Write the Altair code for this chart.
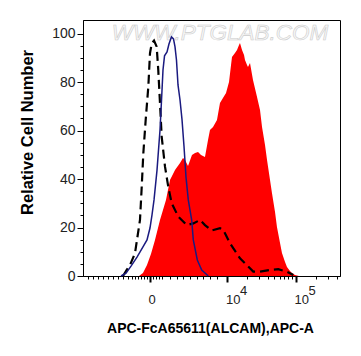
import altair as alt
import pandas as pd

# x positions are in display units of the biexponential axis
red_x = [2.734, 2.791, 2.849, 2.906, 2.964, 3.036, 3.079, 3.122, 3.180, 3.252, 3.324, 3.367,
         3.396, 3.439, 3.496, 3.540, 3.583, 3.626, 3.683, 3.727, 3.755, 3.799, 3.856, 3.899,
         3.942, 3.986, 4.029, 4.058, 4.072, 4.115, 4.144, 4.173, 4.187, 4.216, 4.245, 4.259,
         4.288, 4.302, 4.331, 4.374, 4.432, 4.475, 4.504, 4.547, 4.576, 4.619, 4.647, 4.691,
         4.719, 4.763, 4.791, 4.835, 4.863, 4.906, 4.935, 4.978, 5.036]
red_y = [0, 1.2, 4.5, 9.1, 14.9, 23.1, 27.2, 31.4, 39.6, 43.7, 46.6, 48.7,
         47.9, 45.4, 49.9, 50.7, 51.2, 49.9, 49.1, 56.1, 60.2, 61.5, 64.4, 71.4,
         73.4, 75.5, 80.0, 87.0, 90.3, 92.0, 93.2, 95.3, 96.1, 93.2, 91.2, 89.1,
         87.0, 86.2, 87.9, 80.9, 73.8, 68.5, 61.5, 54.0, 47.9, 39.6, 34.2, 26.4,
         20.2, 13.6, 9.5, 5.8, 3.7, 2.1, 1.2, 0.4, 0]

blue_x = [2.475, 2.547, 2.619, 2.705, 2.791, 2.849, 2.892, 2.921, 2.950, 2.993, 3.036, 3.058,
          3.079, 3.101, 3.137, 3.165, 3.201, 3.230, 3.252, 3.273, 3.295, 3.324, 3.353, 3.381,
          3.410, 3.443, 3.492, 3.515, 3.573, 3.636, 3.731]
blue_y = [0, 1.2, 4.1, 7.8, 12.0, 14.9, 19.8, 25.2, 31.4, 43.7, 60.2, 72.6,
          85.0, 90.8, 92.4, 95.7, 98.6, 97.8, 94.5, 89.1, 78.8, 72.6, 64.4, 53.6,
          40.8, 31.4, 23.1, 14.9, 6.6, 2.5, 0]

dash_x = [2.504, 2.557, 2.604, 2.676, 2.748, 2.773, 2.796, 2.830, 2.868, 2.892, 2.917, 2.950,
          2.988, 3.011, 3.036, 3.060, 3.108, 3.155, 3.204, 3.299, 3.348, 3.420, 3.515, 3.612,
          3.683, 3.780, 3.899, 3.947, 4.043, 4.187, 4.283, 4.378, 4.475, 4.619, 4.738, 4.859,
          4.954]
dash_y = [0, 2.5, 4.5, 9.4, 23.1, 36.8, 50.6, 64.4, 78.1, 91.9, 96.0, 97.1,
          94.6, 85.0, 71.2, 57.5, 45.1, 36.8, 30.0, 24.5, 23.1, 21.0, 21.7, 23.1,
          21.0, 18.8, 19.7, 19.0, 13.5, 7.3, 4.6, 1.8, 1.8, 2.5, 2.8, 1.8,
          0.4]

minor_ticks = [2.000, 2.072, 2.144, 2.216, 2.288, 2.360, 2.432, 2.504, 2.576,
               2.633, 2.676, 2.719, 2.763, 2.806, 2.849, 2.935, 2.978, 3.022, 3.065,
               3.180, 3.276, 3.371, 3.468, 3.564, 3.659, 3.755, 3.852,
               4.295, 4.466, 4.590, 4.683, 4.761, 4.827, 4.883, 4.934,
               5.281, 5.453, 5.576]
major_ticks = [2.892, 4.0, 4.986]
zero_label = ["0"]
power_base = ["10", "10"]
power_exp = ["4", "5"]
y_ticks = list(range(0, 101, 5))

x_title = "APC-FcA65611(ALCAM),APC-A"
y_title = "Relative Cell Number"
watermark = "WWW.PTGLAB.COM"

X_DOMAIN = [1.928, 5.626]
Y_DOMAIN = [0, 105.6]
FONT = "Liberation Sans"

xs = alt.Scale(domain=X_DOMAIN, nice=False, zero=False)
ys = alt.Scale(domain=Y_DOMAIN, nice=False, zero=False)

major_test = "indexof([" + ",".join(str(v) for v in major_ticks) + "], datum.value) >= 0"

x_axis = alt.Axis(
    values=sorted(minor_ticks + major_ticks), labels=False, grid=False,
    tickSize={"condition": {"test": major_test, "value": 6}, "value": 3},
    tickWidth={"condition": {"test": major_test, "value": 2}, "value": 1},
    tickColor="black", domainColor="black", domainWidth=1,
    title=x_title, titleFont=FONT, titleFontSize=14, titleFontWeight="bold",
    titleColor="black", titleX=127, titleY=52, titleBaseline="middle", titleAlign="center",
)
y_axis = alt.Axis(
    values=y_ticks, grid=False,
    labelExpr="datum.value % 20 === 0 ? datum.label : ''",
    tickSize={"condition": {"test": "datum.value % 20 === 0", "value": 6}, "value": 3},
    tickColor="black", domainColor="black", domainWidth=1,
    labelFont=FONT, labelFontSize=14, labelColor="#222222", labelPadding=2,
    title=y_title, titleFont=FONT, titleFontSize=16.5, titleFontWeight="bold",
    titleColor="black", titleX=-56, titleY=112, titleAngle=270,
    titleBaseline="middle", titleAlign="center",
)

def X():
    return alt.X("x:Q", scale=xs, axis=x_axis)

def Y():
    return alt.Y("y:Q", scale=ys, axis=y_axis)

red_df = pd.DataFrame({"x": red_x, "y": red_y})
blue_df = pd.DataFrame({"x": blue_x, "y": blue_y})
dash_df = pd.DataFrame({"x": dash_x, "y": dash_y})

wm = alt.Chart(pd.DataFrame({"t": [watermark]})).mark_text(
    font=FONT, fontSize=22.5, fontStyle="italic", fill="#f8f8f8", stroke="#cccccc",
    strokeWidth=0.6, align="center", baseline="alphabetic",
).encode(text="t:N", x=alt.value(137), y=alt.value(20))

red = alt.Chart(red_df).mark_area(color="#ff0000", interpolate="linear").encode(x=X(), y=Y())
dash = alt.Chart(dash_df).mark_line(color="black", strokeWidth=2.2, strokeDash=[9, 5]).encode(x=X(), y=Y())
blue = alt.Chart(blue_df).mark_line(color="#1a1a80", strokeWidth=1.5).encode(x=X(), y=Y())

zero_df = pd.DataFrame({"x": major_ticks[:1], "t": zero_label})
pow_df = pd.DataFrame({"x": major_ticks[1:], "b": power_base, "e": power_exp})

zero_txt = alt.Chart(zero_df).mark_text(
    font=FONT, fontSize=13, color="#222222", align="center", baseline="alphabetic", dx=2,
).encode(x=X(), y=alt.value(284), text="t:N")
base_txt = alt.Chart(pow_df).mark_text(
    font=FONT, fontSize=13, color="#222222", align="left", baseline="alphabetic", dx=-1,
).encode(x=X(), y=alt.value(284), text="b:N")
exp_txt = alt.Chart(pow_df).mark_text(
    font=FONT, fontSize=13, color="#222222", align="left", baseline="alphabetic", dx=13,
).encode(x=X(), y=alt.value(275), text="e:N")

chart = alt.layer(wm, red, dash, blue, zero_txt, base_txt, exp_txt).properties(
    width=257, height=256,
    autosize=alt.AutoSizeParams(type="none"),
    padding={"left": 75, "top": 12, "right": 13, "bottom": 72},
    background="white",
).configure_view(stroke="black", strokeWidth=1)

chart.save("out.html", embed_options={"renderer": "svg", "actions": False})
